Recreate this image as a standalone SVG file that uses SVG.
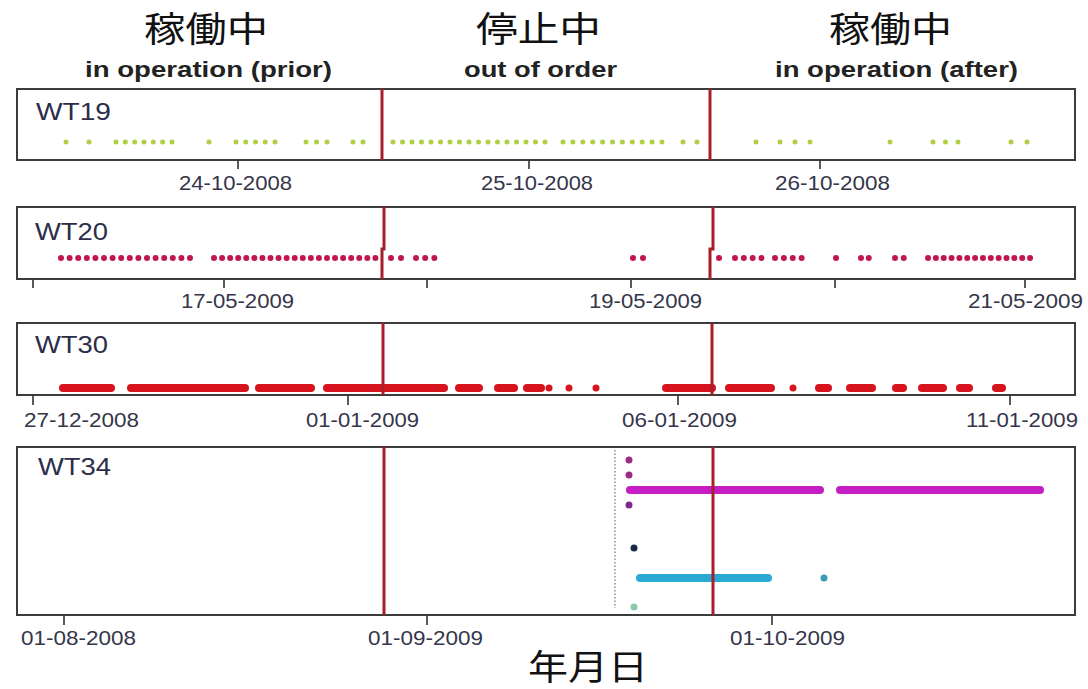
<svg xmlns="http://www.w3.org/2000/svg" width="1088" height="689" viewBox="0 0 1088 689">
<style>
.cjk{font-family:"Noto Sans CJK JP","Noto Sans CJK SC",sans-serif;font-size:35px;fill:#111}
.en{font-family:"Liberation Sans",Arial,sans-serif;font-weight:bold;font-size:22px;fill:#222}
.wt{font-family:"Liberation Sans",Arial,sans-serif;font-size:24px;fill:#2c2d48}
.tl{font-family:"Liberation Sans",Arial,sans-serif;font-size:20px;fill:#35364a}
.box{fill:#fff;stroke:#3c3c3c;stroke-width:2}
.tick{stroke:#333;stroke-width:1.6}
.stop{stroke:#a81f2c;stroke-width:3;fill:none}
.g19{stroke:#b0cf45;stroke-width:5;stroke-linecap:round;fill:none}
.d19{fill:#b0cf45}
.r20{stroke:#c0174f;stroke-width:6;stroke-linecap:round;fill:none}
.d20{fill:#c0174f}
.r30{stroke:#d7141e;stroke-width:8;stroke-linecap:round;fill:none}
.d30{fill:#d7141e}
</style>
<rect width="1088" height="689" fill="#fff"/>
<g id="headers">
<text class="cjk" x="144" y="42" textLength="124" lengthAdjust="spacingAndGlyphs">稼働中</text>
<text class="en" x="85" y="77" textLength="247" lengthAdjust="spacingAndGlyphs">in operation (prior)</text>
<text class="cjk" x="476" y="42" textLength="125" lengthAdjust="spacingAndGlyphs">停止中</text>
<text class="en" x="464" y="77" textLength="153" lengthAdjust="spacingAndGlyphs">out of order</text>
<text class="cjk" x="829" y="42" textLength="123" lengthAdjust="spacingAndGlyphs">稼働中</text>
<text class="en" x="775" y="77" textLength="243" lengthAdjust="spacingAndGlyphs">in operation (after)</text>
</g>
<g id="WT19">
<rect class="box" x="17" y="89" width="1058" height="71"/>
<text class="wt" x="36" y="120" textLength="75" lengthAdjust="spacingAndGlyphs">WT19</text>
<g>
<circle class="d19" cx="66" cy="142" r="2.5"/>
<circle class="d19" cx="89" cy="142" r="2.5"/>
<line class="g19" x1="116" y1="142" x2="172.5" y2="142" stroke-dasharray="0 9.33"/>
<circle class="d19" cx="209" cy="142" r="2.5"/>
<line class="g19" x1="236" y1="142" x2="275.5" y2="142" stroke-dasharray="0 9.75"/>
<line class="g19" x1="306" y1="142" x2="327.5" y2="142" stroke-dasharray="0 10.5"/>
<line class="g19" x1="353" y1="142" x2="363.5" y2="142" stroke-dasharray="0 10"/>
<line class="g19" x1="393" y1="142" x2="545.5" y2="142" stroke-dasharray="0 9.5"/>
<line class="g19" x1="563" y1="142" x2="662.5" y2="142" stroke-dasharray="0 9.9"/>
<line class="g19" x1="683" y1="142" x2="697.5" y2="142" stroke-dasharray="0 14"/>
<circle class="d19" cx="756" cy="142" r="2.5"/>
<line class="g19" x1="780" y1="142" x2="810.5" y2="142" stroke-dasharray="0 15"/>
<circle class="d19" cx="890" cy="142" r="2.5"/>
<line class="g19" x1="933" y1="142" x2="958.5" y2="142" stroke-dasharray="0 12.5"/>
<line class="g19" x1="1011" y1="142" x2="1027.5" y2="142" stroke-dasharray="0 16"/>
</g>
<line class="stop" x1="382" y1="89" x2="382" y2="160"/>
<line class="stop" x1="710" y1="89" x2="710" y2="160"/>
<line class="tick" x1="238" y1="160" x2="238" y2="169"/>
<line class="tick" x1="529" y1="160" x2="529" y2="169"/>
<line class="tick" x1="820" y1="160" x2="820" y2="169"/>
<text class="tl" x="179" y="190" textLength="113" lengthAdjust="spacingAndGlyphs">24-10-2008</text>
<text class="tl" x="481" y="190" textLength="112" lengthAdjust="spacingAndGlyphs">25-10-2008</text>
<text class="tl" x="775" y="190" textLength="115" lengthAdjust="spacingAndGlyphs">26-10-2008</text>
</g>
<g id="WT20">
<rect class="box" x="17" y="207" width="1058" height="72"/>
<text class="wt" x="35" y="240" textLength="73" lengthAdjust="spacingAndGlyphs">WT20</text>
<g>
<line class="r20" x1="61" y1="258" x2="198.5" y2="258" stroke-dasharray="0 8.6"/>
<line class="r20" x1="214" y1="258" x2="375.5" y2="258" stroke-dasharray="0 8.07"/>
<line class="r20" x1="391" y1="258" x2="401.5" y2="258" stroke-dasharray="0 10"/>
<line class="r20" x1="416" y1="258" x2="443.5" y2="258" stroke-dasharray="0 9.17"/>
<line class="r20" x1="633" y1="258" x2="643.5" y2="258" stroke-dasharray="0 10"/>
<circle class="d20" cx="719" cy="258" r="3"/>
<line class="r20" x1="735" y1="258" x2="761.5" y2="258" stroke-dasharray="0 8.83"/>
<line class="r20" x1="775" y1="258" x2="810.5" y2="258" stroke-dasharray="0 8.875"/>
<line class="r20" x1="836" y1="258" x2="843.5" y2="258" stroke-dasharray="0 7.5"/>
<line class="r20" x1="861" y1="258" x2="876.5" y2="258" stroke-dasharray="0 7.75"/>
<line class="r20" x1="895" y1="258" x2="912.5" y2="258" stroke-dasharray="0 8.75"/>
<line class="r20" x1="928" y1="258" x2="1030.5" y2="258" stroke-dasharray="0 7.85"/>
</g>
<polyline class="stop" points="384,207 384,249 382,249 382,279"/>
<polyline class="stop" points="713,207 713,249 710,249 710,279"/>
<line class="tick" x1="33" y1="279" x2="33" y2="288"/>
<line class="tick" x1="224" y1="279" x2="224" y2="288"/>
<line class="tick" x1="427" y1="279" x2="427" y2="288"/>
<line class="tick" x1="631" y1="279" x2="631" y2="288"/>
<line class="tick" x1="835" y1="279" x2="835" y2="288"/>
<line class="tick" x1="1025" y1="279" x2="1025" y2="288"/>
<text class="tl" x="181" y="308" textLength="113" lengthAdjust="spacingAndGlyphs">17-05-2009</text>
<text class="tl" x="589" y="308" textLength="113" lengthAdjust="spacingAndGlyphs">19-05-2009</text>
<text class="tl" x="968" y="308" textLength="115" lengthAdjust="spacingAndGlyphs">21-05-2009</text>
</g>
<g id="WT30">
<rect class="box" x="17" y="323" width="1058" height="72"/>
<text class="wt" x="35" y="353" textLength="73" lengthAdjust="spacingAndGlyphs">WT30</text>
<g>
<line class="r30" x1="63" y1="388" x2="111" y2="388"/>
<line class="r30" x1="131" y1="388" x2="245" y2="388"/>
<line class="r30" x1="259" y1="388" x2="311" y2="388"/>
<line class="r30" x1="327" y1="388" x2="444" y2="388"/>
<line class="r30" x1="459" y1="388" x2="479" y2="388"/>
<line class="r30" x1="498" y1="388" x2="514" y2="388"/>
<line class="r30" x1="527" y1="388" x2="541" y2="388"/>
<circle class="d30" cx="549" cy="388" r="3.5"/>
<circle class="d30" cx="569" cy="388" r="3.5"/>
<circle class="d30" cx="596" cy="388" r="3.5"/>
<line class="r30" x1="666" y1="388" x2="712" y2="388"/>
<line class="r30" x1="729" y1="388" x2="771" y2="388"/>
<circle class="d30" cx="793" cy="388" r="3.5"/>
<line class="r30" x1="819" y1="388" x2="828" y2="388"/>
<line class="r30" x1="850" y1="388" x2="872" y2="388"/>
<line class="r30" x1="896" y1="388" x2="903" y2="388"/>
<line class="r30" x1="922" y1="388" x2="943" y2="388"/>
<line class="r30" x1="960" y1="388" x2="969" y2="388"/>
<line class="r30" x1="996" y1="388" x2="1002" y2="388"/>
</g>
<line class="stop" x1="383" y1="323" x2="383" y2="395"/>
<line class="stop" x1="712" y1="323" x2="712" y2="395"/>
<line class="tick" x1="33" y1="395" x2="33" y2="405"/>
<line class="tick" x1="348" y1="395" x2="348" y2="405"/>
<line class="tick" x1="678" y1="395" x2="678" y2="405"/>
<line class="tick" x1="1010" y1="395" x2="1010" y2="405"/>
<text class="tl" x="24" y="427" textLength="115" lengthAdjust="spacingAndGlyphs">27-12-2008</text>
<text class="tl" x="306" y="427" textLength="113" lengthAdjust="spacingAndGlyphs">01-01-2009</text>
<text class="tl" x="622" y="427" textLength="115" lengthAdjust="spacingAndGlyphs">06-01-2009</text>
<text class="tl" x="966" y="427" textLength="112" lengthAdjust="spacingAndGlyphs">11-01-2009</text>
</g>
<g id="WT34">
<rect class="box" x="17" y="447" width="1058" height="168"/>
<text class="wt" x="38" y="475" textLength="73" lengthAdjust="spacingAndGlyphs">WT34</text>
<line x1="615" y1="450" x2="615" y2="608" stroke="#555" stroke-width="1" stroke-dasharray="1.5 2"/>
<circle cx="629" cy="460" r="3.5" fill="#9c2c86"/>
<circle cx="629" cy="475" r="3.5" fill="#9c2c86"/>
<circle cx="629" cy="505" r="3.5" fill="#7d2a8e"/>
<line x1="630" y1="490" x2="820" y2="490" stroke="#c41ec4" stroke-width="8" stroke-linecap="round"/>
<line x1="840" y1="490" x2="1040" y2="490" stroke="#c41ec4" stroke-width="8" stroke-linecap="round"/>
<circle cx="634" cy="548" r="3.5" fill="#1b2b45"/>
<line x1="640" y1="578" x2="768" y2="578" stroke="#2aa9d2" stroke-width="8" stroke-linecap="round"/>
<circle cx="824" cy="578" r="3.5" fill="#3a9ab8"/>
<circle cx="634" cy="607" r="3.5" fill="#8cc9a8"/>
<line class="stop" x1="384" y1="447" x2="384" y2="615"/>
<line class="stop" x1="713" y1="447" x2="713" y2="615"/>
<line class="tick" x1="64" y1="615" x2="64" y2="625"/>
<line class="tick" x1="427" y1="615" x2="427" y2="625"/>
<line class="tick" x1="772" y1="615" x2="772" y2="625"/>
<text class="tl" x="21" y="645" textLength="115" lengthAdjust="spacingAndGlyphs">01-08-2008</text>
<text class="tl" x="368" y="645" textLength="115" lengthAdjust="spacingAndGlyphs">01-09-2009</text>
<text class="tl" x="730" y="645" textLength="115" lengthAdjust="spacingAndGlyphs">01-10-2009</text>
</g>
<g id="xlabel">
<text class="cjk" x="528" y="680" font-size="34" textLength="120" lengthAdjust="spacingAndGlyphs">年月日</text>
</g>
<g id="connectors"></g>
</svg>
